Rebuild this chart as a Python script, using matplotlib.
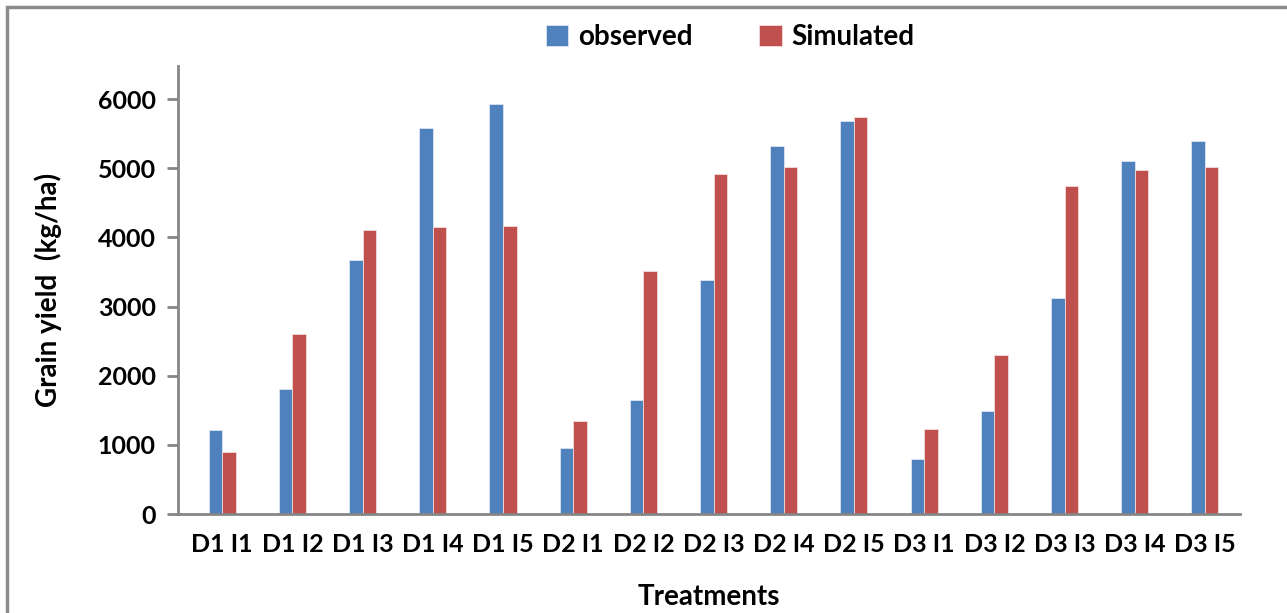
import numpy as np
import matplotlib.pyplot as plt
from matplotlib.patches import Rectangle

plt.rcParams['font.family'] = ['Lato', 'DejaVu Sans']

# treatments and yields
treatments = ["D1 I1", "D1 I2", "D1 I3", "D1 I4", "D1 I5",
              "D2 I1", "D2 I2", "D2 I3", "D2 I4", "D2 I5",
              "D3 I1", "D3 I2", "D3 I3", "D3 I4", "D3 I5"]
observed = [1214, 1810, 3670, 5580, 5930,
            950, 1650, 3380, 5320, 5680,
            795, 1490, 3120, 5100, 5400]
simulated = [896, 2600, 4110, 4150, 4170,
             1350, 3520, 4920, 5020, 5740,
             1229, 2300, 4750, 4970, 5020]

fig = plt.figure(figsize=(12.87, 6.13), dpi=100)
ax = fig.add_axes([178 / 1287, 99 / 613, 1062 / 1287, 448 / 613])

x = np.arange(len(treatments))
w = 0.193
ax.bar(x - w / 2, observed, w, color="#4F81BD", edgecolor="#dce6f2", linewidth=0.6, label="observed")
ax.bar(x + w / 2, simulated, w, color="#C0504D", edgecolor="#f2dcdb", linewidth=0.6, label="Simulated")

ax.set_xlim(-0.63, len(treatments) - 0.5)
ax.set_ylim(0, 6480)
ax.set_yticks(range(0, 7000, 1000))
ax.set_xticks(x)
ax.set_xticklabels(treatments)

for s in ["top", "right"]:
    ax.spines[s].set_visible(False)
for s in ["left", "bottom"]:
    ax.spines[s].set_color("#868686")
    ax.spines[s].set_linewidth(2)
ax.tick_params(axis="y", length=8, width=2, color="#868686", labelsize=18, pad=8)
ax.tick_params(axis="x", length=0, labelsize=18, pad=14)
for lbl in ax.get_xticklabels() + ax.get_yticklabels():
    lbl.set_fontweight("bold")

ax.set_xlabel("Treatments", fontsize=20, fontweight="bold", labelpad=20)
ax.set_ylabel("Grain yield  (kg/ha)", fontsize=20, fontweight="bold", labelpad=26)

leg = ax.legend(loc="upper center", bbox_to_anchor=(0.52, 1.15), ncol=2, frameon=False,
                prop={"size": 20, "weight": "bold"}, handlelength=0.8, handleheight=0.8,
                handletextpad=0.35, columnspacing=2.4)

# outer chart frame
fig.patches.append(Rectangle((7 / 1287, -0.01), 1.0, 1 - 7 / 613 + 0.01, transform=fig.transFigure,
                             fill=False, edgecolor="#8c8c8c", linewidth=2.5))

fig.savefig("out.png", dpi=100)
